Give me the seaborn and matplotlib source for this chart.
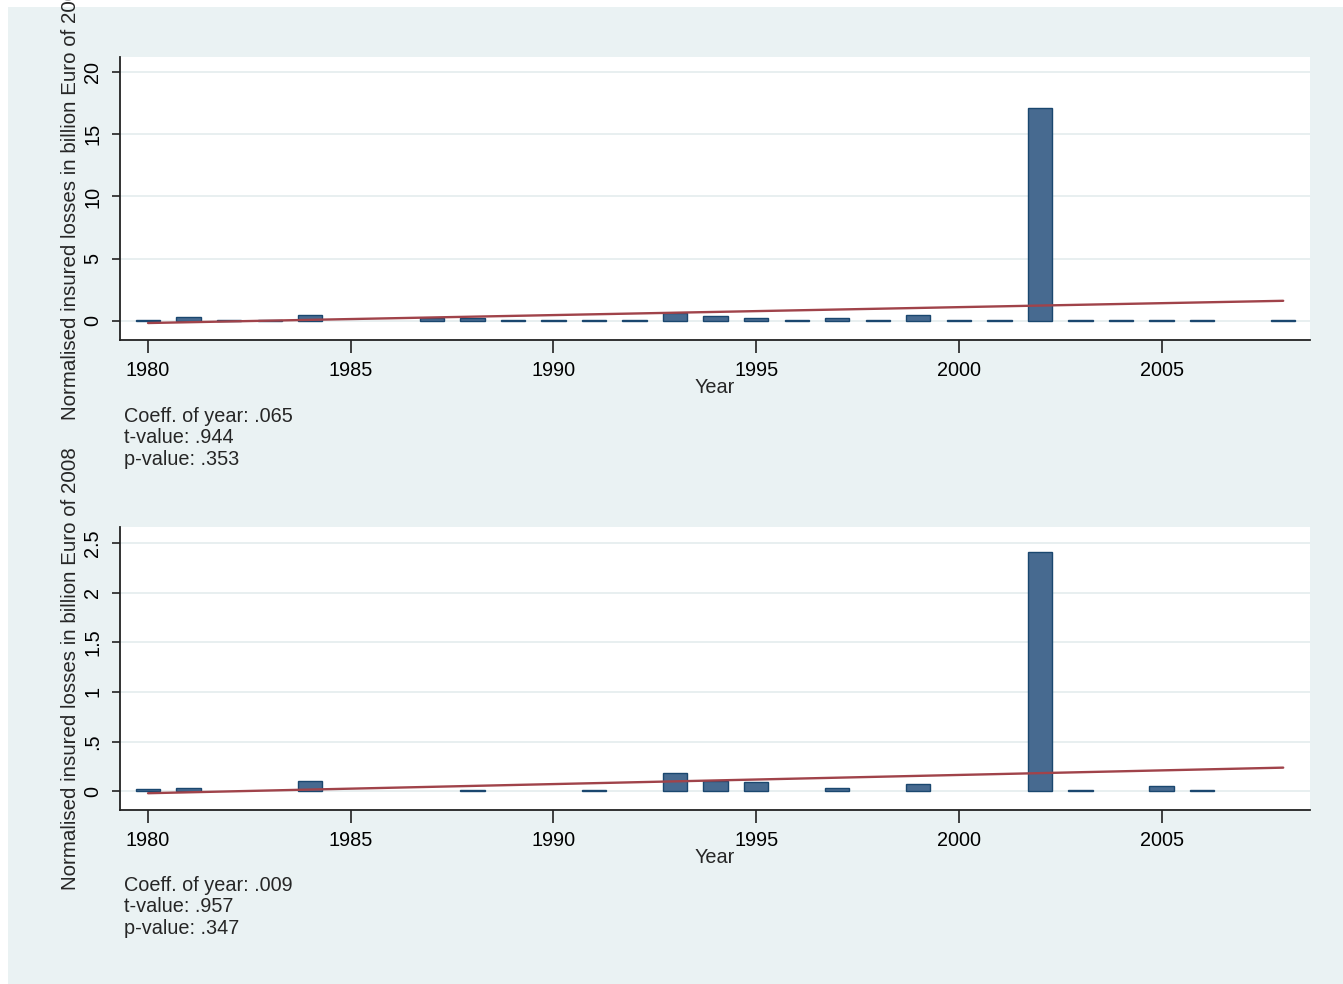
import numpy as np
import pandas as pd
import matplotlib
matplotlib.use('Agg')
import matplotlib.pyplot as plt
from matplotlib.patches import Rectangle
import seaborn as sns

# dados (0 = sem barra)
anos = list(range(1980, 2009))
perdas_topo = [0.05, 0.3, 0.05, 0.1, 0.45, 0, 0, 0.2, 0.2, 0.05,
               0.05, 0.05, 0.05, 0.6, 0.37, 0.27, 0.05, 0.25, 0.05, 0.5,
               0.05, 0.05, 17.1, 0.05, 0.05, 0.05, 0.05, 0, 0.05]
perdas_baixo = [0.02, 0.03, 0, 0, 0.1, 0, 0, 0, 0.01, 0,
                0, 0.01, 0, 0.185, 0.1, 0.09, 0, 0.03, 0, 0.077,
                0, 0, 2.41, 0.012, 0, 0.05, 0.01, 0, 0]
notas_topo = ['Coeff. of year: .065', 't-value: .944', 'p-value: .353']
notas_baixo = ['Coeff. of year: .009', 't-value: .957', 'p-value: .347']
yticks_topo = [0, 5, 10, 15, 20]
yticklabels_topo = ['0', '5', '10', '15', '20']
yticks_baixo = [0, 0.5, 1, 1.5, 2, 2.5]
yticklabels_baixo = ['0', '.5', '1', '1.5', '2', '2.5']
xticks = [1980, 1985, 1990, 1995, 2000, 2005]

sns.set_style('ticks')
plt.rcParams['font.family'] = ['Liberation Sans', 'DejaVu Sans']

cor_fundo = '#EAF2F3'
cor_barra = '#476A90'
cor_borda = '#1A476F'
cor_linha = '#A0434A'
fs = 14.3

fig = plt.figure(figsize=(13.43, 9.84), dpi=100, facecolor='white')
fig.patches.append(Rectangle((8 / 1343, 0), 1, (984 - 7) / 984, transform=fig.transFigure,
                             facecolor=cor_fundo, edgecolor='none', zorder=-10))

ax1 = fig.add_axes([0.0894, 0.6545, 0.886, 0.2876])
ax2 = fig.add_axes([0.0894, 0.1768, 0.886, 0.2876])


def painel(ax, perdas, ylim, yticks, yticklabels, notas, y_notas):
    df = pd.DataFrame({'year': anos, 'loss': perdas})
    ax.set_facecolor('white')
    sns.barplot(data=df[df['loss'] > 0], x='year', y='loss', native_scale=True, width=0.6,
                color=cor_barra, saturation=1, edgecolor=cor_borda, linewidth=1, ax=ax, zorder=2)
    sns.regplot(data=df, x='year', y='loss', scatter=False, ci=None, color=cor_linha,
                line_kws={'lw': 1.7, 'zorder': 3}, ax=ax)
    ax.set_xlim(1979.31, 2008.66)
    ax.set_ylim(*ylim)
    ax.set_xticks(xticks)
    ax.set_xticklabels([str(x) for x in xticks], fontsize=fs)
    ax.set_yticks(yticks)
    ax.set_yticklabels(yticklabels, fontsize=fs, rotation=90, va='center')
    ax.tick_params(axis='x', length=9, width=1.2, pad=6, colors='#222222', labelcolor='black')
    ax.tick_params(axis='y', length=6, width=1.2, pad=7, colors='#222222', labelcolor='black')
    ax.yaxis.grid(True, color='#E4ECEE', lw=1.2)
    ax.set_axisbelow(True)
    for s in ['top', 'right']:
        ax.spines[s].set_visible(False)
    for s in ['left', 'bottom']:
        ax.spines[s].set_color('#222222')
        ax.spines[s].set_linewidth(1.3)
    ax.set_xlabel('Year', fontsize=fs, labelpad=-1)
    ax.set_ylabel('Normalised insured losses in billion Euro of 2008', fontsize=14.8)
    ax.yaxis.set_label_coords(-0.034, 0.5)
    fig.text(124 / 1343, 1 - y_notas / 984, '\n'.join(notas), fontsize=fs, va='top', ha='left',
             linespacing=1.16)


painel(ax1, perdas_topo, (-1.526, 21.2), yticks_topo, yticklabels_topo, notas_topo, 407)
painel(ax2, perdas_baixo, (-0.19, 2.66), yticks_baixo, yticklabels_baixo, notas_baixo, 876)

fig.savefig('out.png', dpi=100, facecolor=fig.get_facecolor())
